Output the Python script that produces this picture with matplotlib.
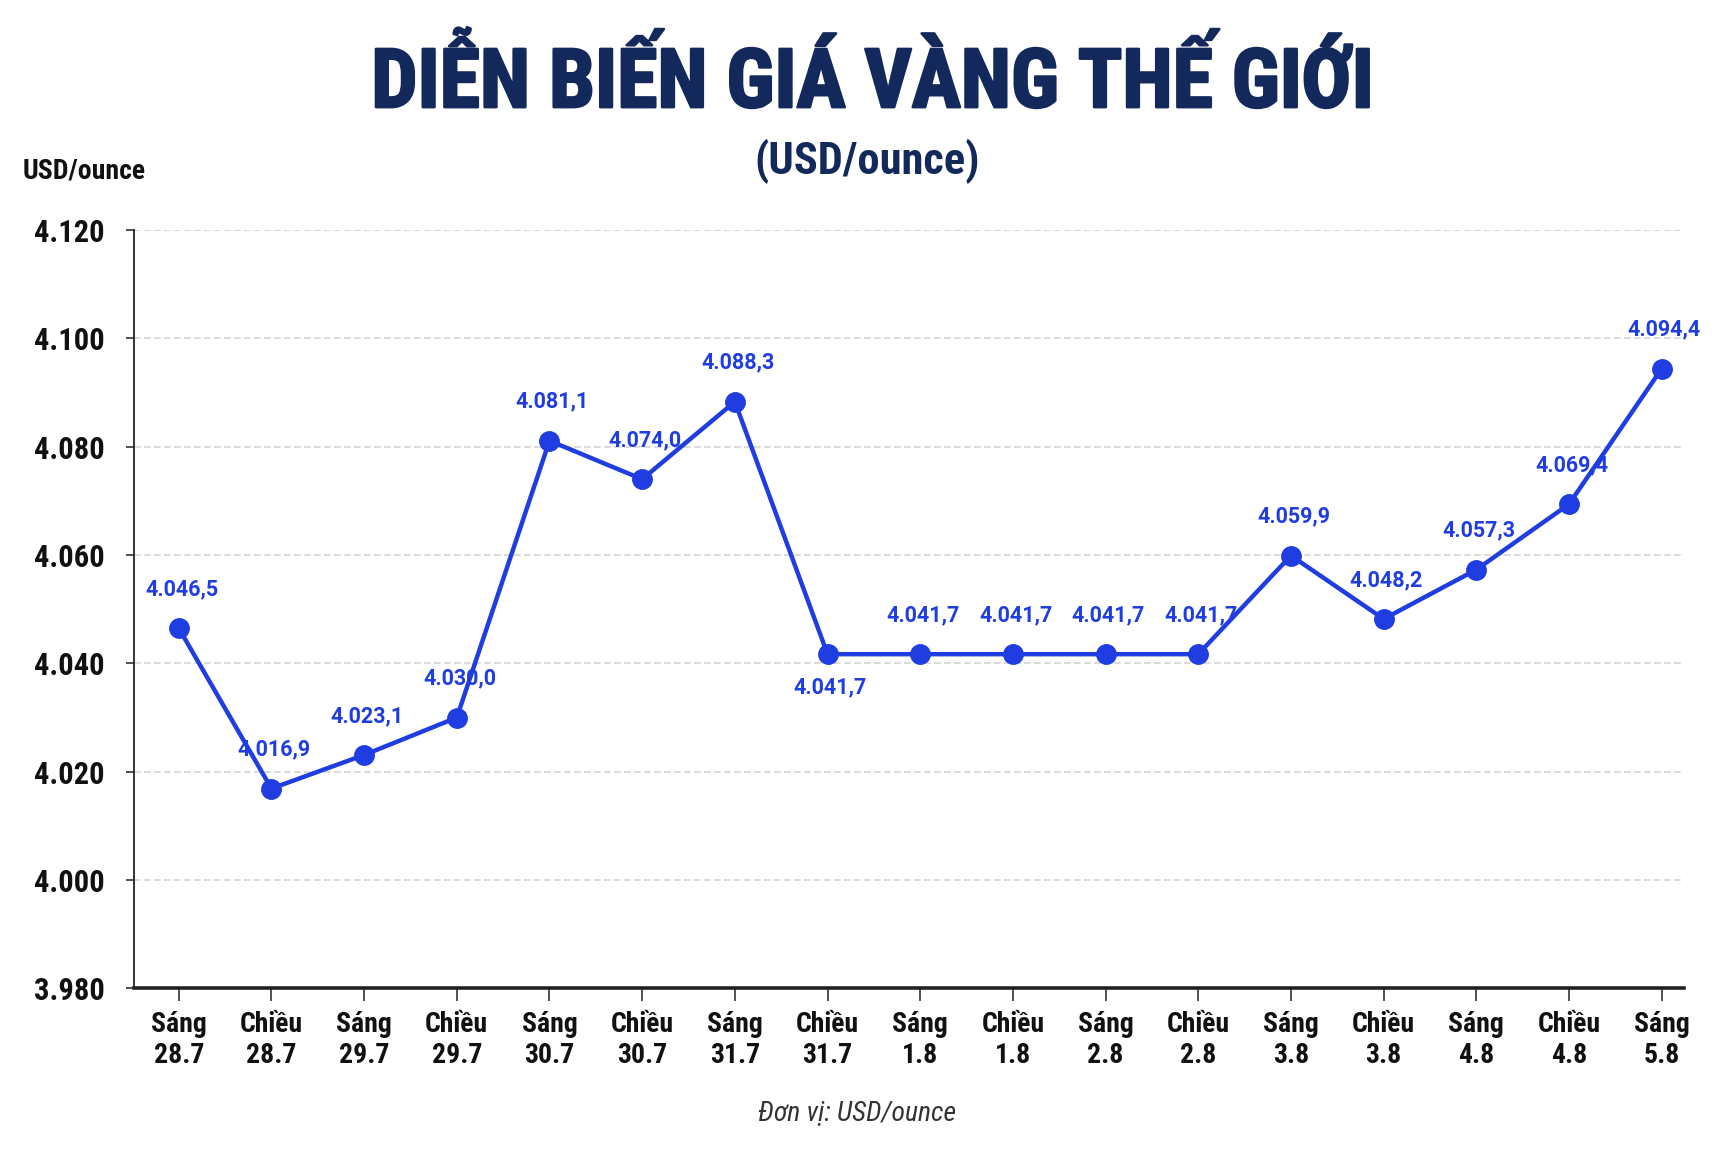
import matplotlib
matplotlib.use("Agg")
import matplotlib.pyplot as plt
import matplotlib.patheffects as pe
from matplotlib.ticker import FuncFormatter

sessions = ["Sáng", "Chiều", "Sáng", "Chiều", "Sáng", "Chiều", "Sáng", "Chiều", "Sáng",
            "Chiều", "Sáng", "Chiều", "Sáng", "Chiều", "Sáng", "Chiều", "Sáng"]
dates = ["28.7", "28.7", "29.7", "29.7", "30.7", "30.7", "31.7", "31.7", "1.8",
         "1.8", "2.8", "2.8", "3.8", "3.8", "4.8", "4.8", "5.8"]
prices = [4046.5, 4016.9, 4023.1, 4030.0, 4081.1, 4074.0, 4088.3, 4041.7, 4041.7,
          4041.7, 4041.7, 4041.7, 4059.9, 4048.2, 4057.3, 4069.4, 4094.4]
label_below = [7]  # index of the point whose label sits under it
y_ticks = [3980, 4000, 4020, 4040, 4060, 4080, 4100, 4120]

navy = "#13285b"
blue = "#1f3de0"
cond = ["Roboto Condensed", "DejaVu Sans"]


def vn_num(v, decimals=0):
    s = f"{v:,.{decimals}f}"
    return s.replace(",", "X").replace(".", ",").replace("X", ".")


fig = plt.figure(figsize=(17.28, 11.58), dpi=100)
ax = fig.add_axes([0.0777, 0.1464, 0.8968, 0.655])

x = list(range(len(prices)))
ax.plot(x, prices, color=blue, lw=3.2, marker="o", ms=14, zorder=3)

for i, v in enumerate(prices):
    dy = -24 if i in label_below else 28
    ax.annotate(vn_num(v, 1), (i, v), xytext=(2, dy), textcoords="offset points",
                ha="center", va="center", fontsize=15.5, fontweight="bold",
                color=blue, family=["Roboto", "DejaVu Sans"], zorder=4)

ax.set_xlim(-0.48, 16.24)
ax.set_ylim(3980, 4120)
ax.set_yticks(y_ticks)
ax.yaxis.set_major_formatter(FuncFormatter(lambda v, p: vn_num(v)))
ax.set_xticks(x)
ax.set_xticklabels([f"{s}\n{d}" for s, d in zip(sessions, dates)], linespacing=1.2)

for lab in ax.get_xticklabels() + ax.get_yticklabels():
    lab.set_family(cond)
    lab.set_fontweight("bold")
    lab.set_color("#111111")
for lab in ax.get_xticklabels():
    lab.set_fontsize(20)
for lab in ax.get_yticklabels():
    lab.set_fontsize(22)

ax.tick_params(axis="x", length=9, width=1.2, color="#333333", pad=7)
ax.tick_params(axis="y", length=6, width=1.2, color="#333333", pad=15)

ax.grid(axis="y", color="#d4d4d4", ls=(0, (4, 2)), lw=1.2, zorder=0)
ax.set_axisbelow(True)
for side in ["top", "right"]:
    ax.spines[side].set_visible(False)
ax.spines["left"].set_linewidth(1.3)
ax.spines["left"].set_color("#222222")
ax.spines["bottom"].set_linewidth(2.6)
ax.spines["bottom"].set_color("#222222")

title = fig.text(0.505, 0.928, "DIỄN BIẾN GIÁ VÀNG THẾ GIỚI", ha="center", va="center",
                 fontsize=59, fontweight="bold", color=navy, family=cond)
title.set_path_effects([pe.withStroke(linewidth=1.8, foreground=navy)])
fig.text(0.502, 0.861, "(USD/ounce)", ha="center", va="center",
         fontsize=32, fontweight="bold", color=navy, family=cond)
fig.text(0.013, 0.852, "USD/ounce", ha="left", va="center",
         fontsize=20, fontweight="bold", color="#111111", family=cond)
fig.text(0.496, 0.039, "Đơn vị: USD/ounce", ha="center", va="center",
         fontsize=20, style="italic", color="#333333", family=cond)

fig.savefig("out.png", dpi=100, facecolor="white")
